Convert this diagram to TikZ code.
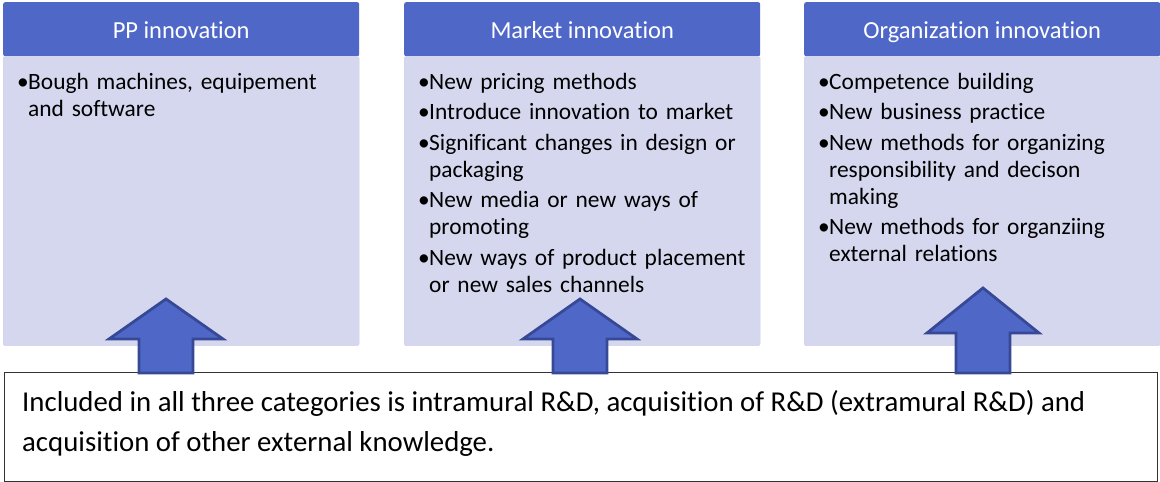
\documentclass[tikz,border=0pt]{standalone}
\usepackage{fontspec}
\setmainfont{Carlito}[RawFeature=-liga]
\usetikzlibrary{positioning}

\definecolor{headblue}{RGB}{79,104,200}
\definecolor{bodylav}{RGB}{213,215,238}
\definecolor{bodyedge}{RGB}{204,207,234}
\definecolor{arrowedge}{RGB}{55,73,150}

% bullet line with hanging indent
\newcommand{\bul}[1]{\par\hangindent=11pt\hangafter=1\noindent\makebox[11pt][l]{\textbullet}#1}

\begin{document}
\begin{tikzpicture}[x=1pt, y=-1pt,
    header/.style = {fill = headblue, rounded corners = 2pt, minimum width = 356pt,
                     minimum height = 54pt, inner sep = 0pt, text = white, text height = 20pt,
                     text depth = 1pt, font = \fontsize{24.5}{28}\selectfont, anchor = north west},
    body/.style = {fill = bodylav, draw = bodyedge, rounded corners = 2pt,
                   minimum width = 356pt, minimum height = 289pt, inner sep = 0pt},
    items/.style = {anchor = north west, text width = 338pt, align = left, inner sep = 0pt,
                    font = \fontsize{23.4}{27}\selectfont},
    blockarrow/.style = {fill = headblue, draw = arrowedge, line width = 2.8pt, line join = miter}]
				\useasboundingbox (0,0) rectangle (1160,482);
				% the three categories
				\node[header] (hdrpp) at (3,2) {PP innovation};
				\node[header] (hdrmkt) at (404,2) {Market innovation};
				\node[header] (hdrorg) at (804,2) {Organization innovation};
				\node[body, below = 0pt of hdrpp] (bodypp) {};
				\node[body, below = 0pt of hdrmkt] (bodymkt) {};
				\node[body, below = 0pt of hdrorg] (bodyorg) {};
				\node[items] (listpp) at ([xshift=14pt, yshift=-2pt]bodypp.north west)
				  {\lefthyphenmin=64 \setlength{\parskip}{3.5pt}%
				   \bul{Bough machines, equipement and software}\par};
				\node[items] (listmkt) at ([xshift=14pt, yshift=-2pt]bodymkt.north west)
				  {\lefthyphenmin=64 \setlength{\parskip}{3.5pt}%
				   \bul{New pricing methods}\bul{Introduce innovation to market}%
				   \bul{Significant changes in design or packaging}\bul{New media or new ways of promoting}%
				   \bul{New ways of product placement or new sales channels}\par};
				\node[items] (listorg) at ([xshift=14pt, yshift=-2pt]bodyorg.north west)
				  {\lefthyphenmin=64 \setlength{\parskip}{3.5pt}%
				   \bul{Competence building}\bul{New business practice}%
				   \bul{New methods for organizing responsibility and decison making}%
				   \bul{New methods for organziing external relations}\par};
				% common box
				\node[draw = black!80, line width = 0.9pt, anchor = north west, minimum width = 1153pt,
				      minimum height = 109pt, inner sep = 0pt] (common) at (4,372) {};
				\node[anchor = north west, align = left, inner sep = 0pt,
				      font = \fontsize{28.8}{40}\selectfont] (commontext) at ([xshift=18pt, yshift=-18pt]common.north west)
				  {Included in all three categories is intramural R\&D, acquisition of R\&D (extramural R\&D) and\\ acquisition of other external knowledge.};
				% block arrows from the common box up into each category
				\foreach \ax/\tip/\base/\hw in {166/299/339/57, 580/299/339/57, 983/288/333/56}
				  \draw[blockarrow] (\ax,\tip) -- (\ax+\hw,\base) -- (\ax+27,\base) -- (\ax+27,373)
				    -- (\ax-27,373) -- (\ax-27,\base) -- (\ax-\hw,\base) -- cycle;
				\end{tikzpicture}
\end{document}
